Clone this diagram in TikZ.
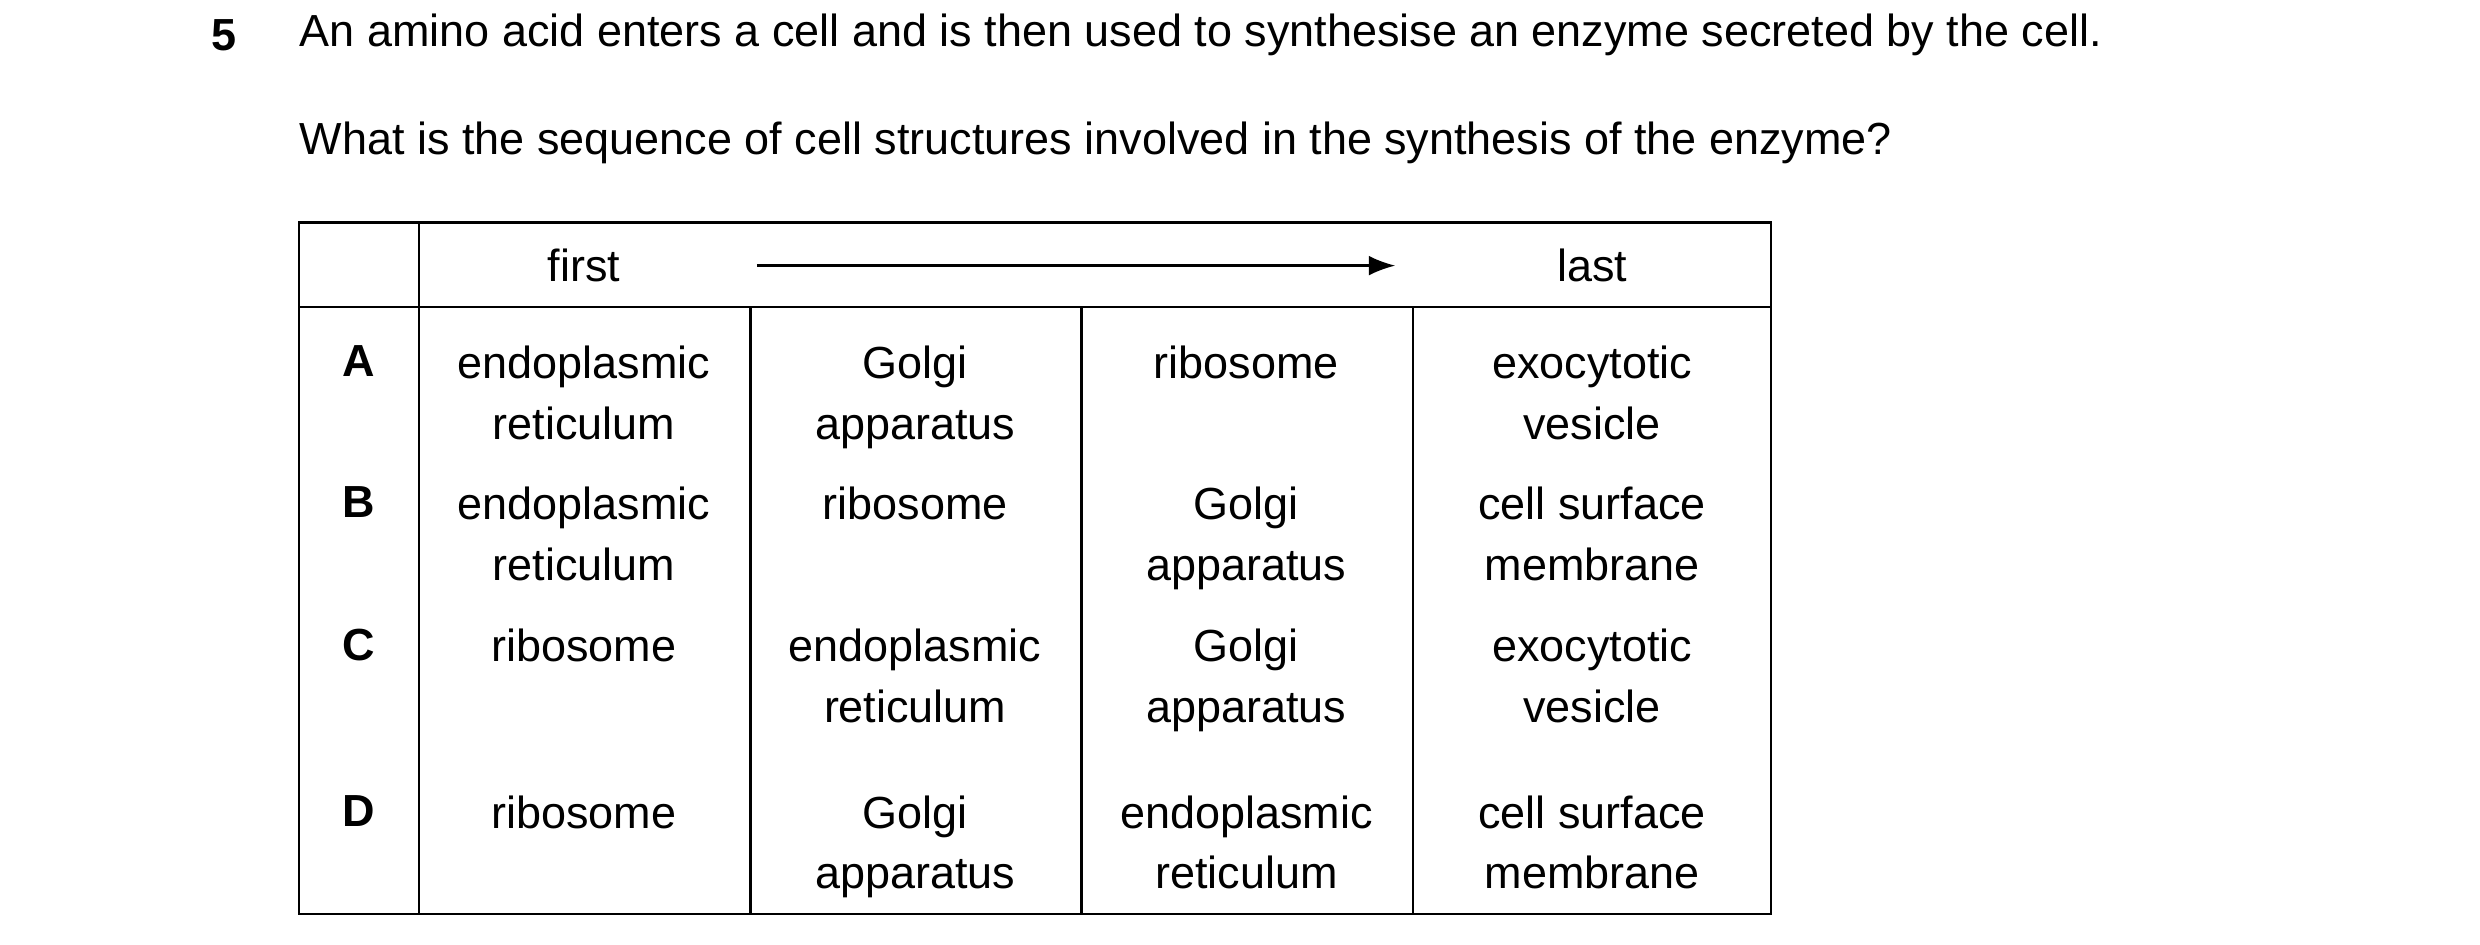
\documentclass[tikz,border=0pt]{standalone}
\usepackage{fontspec}
\setmainfont{Liberation Sans}
\usetikzlibrary{arrows.meta}
\tikzset{
    every node/.style = {font=\fontsize{12}{16.2}\selectfont},
    cell/.style = {align=center, anchor=north},
    letter/.style = {font=\fontsize{12}{16.2}\selectfont\bfseries, anchor=north},
    rule/.style = {line width=0.6pt}
}
\begin{document}
\begin{tikzpicture}[x=0.427pt, y=-0.427pt]
    \useasboundingbox (0,0) rectangle (1550,590.6);
    \node[font=\fontsize{12}{14}\selectfont\bfseries] (num) at (140,22) {5};
    \node[anchor=west, inner sep=0pt] (q1) at (187,22) {An amino acid enters a cell and is then used to synthesise an enzyme secreted by the cell.};
    \node[anchor=west, inner sep=0pt] (q2) at (187,89) {What is the sequence of cell structures involved in the synthesis of the enzyme?};
    % table frame
    \draw[rule] (187,139) rectangle (1107,571);
    \draw[rule] (187,192) -- (1107,192);
    \draw[rule] (262,139) -- (262,571);
    \foreach \x in {469,676,883}
        \draw[rule] (\x,192) -- (\x,571);
    % heading
    \node (first) at (365,166) {first};
    \node (last) at (995,166) {last};
    \coordinate (arrS) at (473,166);
    \coordinate (arrE) at (872,166);
    \draw[rule, -{Latex[length=7pt]}] (arrS) -- (arrE);
    % rows
    \foreach \l/\y/\a/\b/\c/\d in {
        A/208/endoplasmic\\reticulum/Golgi\\apparatus/ribosome/exocytotic\\vesicle,
        B/296/endoplasmic\\reticulum/ribosome/Golgi\\apparatus/cell surface\\membrane,
        C/385/ribosome/endoplasmic\\reticulum/Golgi\\apparatus/exocytotic\\vesicle,
        D/489/ribosome/Golgi\\apparatus/endoplasmic\\reticulum/cell surface\\membrane} {
        \node[letter] (row\l) at (224,\y) {\l};
        \node[cell] (row\l a) at (365,\y) {\a};
        \node[cell] (row\l b) at (572,\y) {\b};
        \node[cell] (row\l c) at (779,\y) {\c};
        \node[cell] (row\l d) at (995,\y) {\d};
    }
\end{tikzpicture}
\end{document}
